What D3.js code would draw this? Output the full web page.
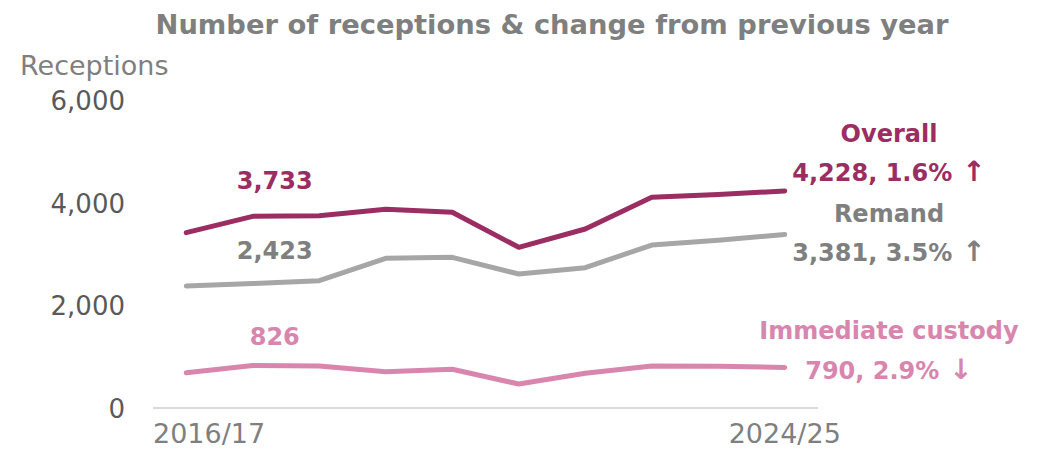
<!DOCTYPE html>
<html>
<head>
<meta charset="utf-8">
<script src="https://cdn.jsdelivr.net/npm/d3@7"></script>
<style>
  html, body { margin: 0; padding: 0; background: #fff; }
  svg text { font-family: "DejaVu Sans", sans-serif; }
</style>
</head>
<body>
<svg id="chart" width="1046" height="449"></svg>
<script>
// Financial years plotted along the x axis
const years = ["2015/16", "2016/17", "2017/18", "2018/19", "2019/20",
               "2020/21", "2021/22", "2022/23", "2023/24", "2024/25"];
// Only these years carry an axis label
const yearLabels = ["2016/17", "2024/25"];
// Y axis ticks
const yTicks = [0, 2000, 4000, 6000];

// Receptions per year
const overall   = [3415, 3733, 3745, 3870, 3812, 3130, 3487, 4104, 4161, 4228];
const remand    = [2377, 2423, 2480, 2916, 2935, 2610, 2733, 3175, 3267, 3381];
const immediate = [688, 826, 820, 707, 754, 467, 676, 818, 814, 790];

const seriesNames = ["Overall", "Remand", "Immediate custody"];
const seriesColors = ["#9B2D62", "#A6A6A6", "#D886AE"];
const labelColors  = ["#9B2D62", "#7F7F7F", "#D886AE"];
const highlightYear = "2016/17";

const series = [overall, remand, immediate].map((vals, i) => ({
  name: seriesNames[i],
  color: seriesColors[i],
  textColor: labelColors[i],
  values: vals.map((v, j) => ({ year: years[j], value: v }))
}));

const svg = d3.select("#chart");

const x = d3.scalePoint().domain(years).range([153, 818]).padding(0.5);
const y = d3.scaleLinear().domain([0, 6000]).range([408, 100]);

// Title and axis caption
svg.append("text")
  .attr("x", 552).attr("y", 34)
  .attr("text-anchor", "middle")
  .attr("font-size", 26).attr("font-weight", 700)
  .attr("fill", "#7F7F7F")
  .attr("textLength", 793).attr("lengthAdjust", "spacingAndGlyphs")
  .text("Number of receptions & change from previous year");

svg.append("text")
  .attr("x", 20).attr("y", 75)
  .attr("font-size", 27)
  .attr("fill", "#7F7F7F")
  .text("Receptions");

// Y axis (labels only)
const yAxis = svg.append("g")
  .attr("transform", "translate(125,0)")
  .call(d3.axisLeft(y).tickValues(yTicks).tickFormat(d3.format(",")).tickSize(0).tickPadding(0));
yAxis.select(".domain").remove();
yAxis.selectAll("text")
  .attr("font-size", 26)
  .attr("font-family", "DejaVu Sans, sans-serif")
  .attr("fill", "#595959")
  .attr("dy", "0.36em");

// X axis baseline
svg.append("line")
  .attr("x1", x.range()[0]).attr("x2", x.range()[1])
  .attr("y1", y(0)).attr("y2", y(0))
  .attr("stroke", "#D9D9D9").attr("stroke-width", 2);

// X axis labels: first label held inside the axis start, last centred on its year
svg.append("g").selectAll("text")
  .data(yearLabels)
  .join("text")
  .attr("x", (d, i) => i === 0 ? x.range()[0] : x(d))
  .attr("y", 443)
  .attr("text-anchor", (d, i) => i === 0 ? "start" : "middle")
  .attr("font-size", 27)
  .attr("fill", "#7F7F7F")
  .text(d => d);

// Lines
const line = d3.line().x(d => x(d.year)).y(d => y(d.value));
svg.append("g").selectAll("path")
  .data(series)
  .join("path")
  .attr("d", d => line(d.values))
  .attr("fill", "none")
  .attr("stroke", d => d.color)
  .attr("stroke-width", 5)
  .attr("stroke-linecap", "round")
  .attr("stroke-linejoin", "round");

// Value labels above the highlighted year
const fmt = d3.format(",");
const labelLift = [27, 25, 21];
svg.append("g").selectAll("text")
  .data(series)
  .join("text")
  .attr("x", x(highlightYear) + 22)
  .attr("y", (d, i) => y(d.values.find(v => v.year === highlightYear).value) - labelLift[i])
  .attr("text-anchor", "middle")
  .attr("font-size", 24).attr("font-weight", 700)
  .attr("fill", d => d.textColor)
  .text(d => fmt(d.values.find(v => v.year === highlightYear).value));

// End labels: name, latest value, change from previous year
const endX = 889;
const endNameY = [142, 222, 339];
const endValY  = [181, 261, 379];
series.forEach((s, i) => {
  const n = s.values.length;
  const last = s.values[n - 1].value;
  const prev = s.values[n - 2].value;
  const pct = (last - prev) / prev * 100;
  const arrow = pct >= 0 ? "\u2191" : "\u2193";
  svg.append("text")
    .attr("x", endX).attr("y", endNameY[i])
    .attr("text-anchor", "middle")
    .attr("font-size", 24).attr("font-weight", 700)
    .attr("fill", s.textColor)
    .text(s.name);
  const t = svg.append("text")
    .attr("x", endX).attr("y", endValY[i])
    .attr("text-anchor", "middle")
    .attr("font-size", 24).attr("font-weight", 700)
    .attr("fill", s.textColor);
  t.append("tspan").text(`${fmt(last)}, ${Math.abs(pct).toFixed(1)}%`);
  t.append("tspan").attr("dx", 10).attr("font-size", 28).text(arrow);
});
</script>
</body>
</html>
